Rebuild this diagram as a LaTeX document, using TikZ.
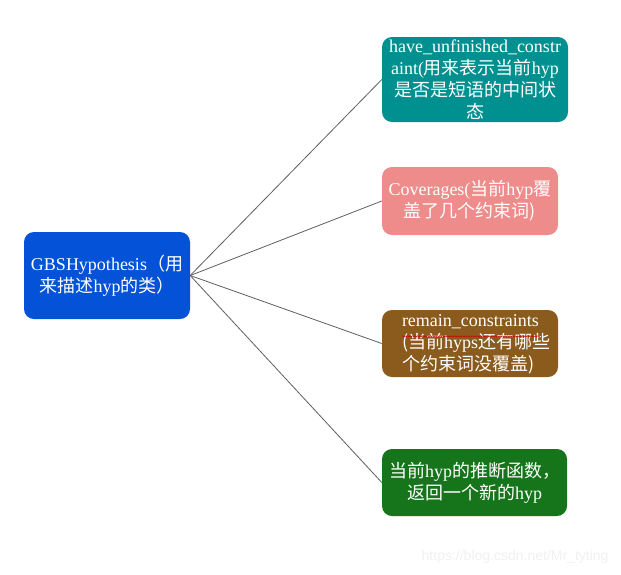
\documentclass[tikz,border=0pt]{standalone}
\usepackage{fontspec}
\setmainfont{Liberation Serif}
\setsansfont{Liberation Sans}
\newfontfamily\cjk{Noto Sans CJK SC}
\usetikzlibrary{calc,decorations.pathmorphing}
\definecolor{rootblue}{HTML}{0352D8}
\definecolor{teal}{HTML}{009090}
\definecolor{rose}{HTML}{EE8B8B}
\definecolor{bronze}{HTML}{8A5B1D}
\definecolor{leaf}{HTML}{16741A}
\definecolor{wire}{HTML}{5E5E5E}
\definecolor{mark}{HTML}{F0F0F0}
\newcommand{\zh}[1]{{\cjk #1}}
\tikzset{
  box/.style={rounded corners=10pt,text=white,align=center,inner sep=2pt,
    font=\fontsize{18}{22}\selectfont},
  rootbox/.style={box,fill=rootblue,minimum width=166pt,minimum height=87pt},
  fieldbox/.style={box,fill=teal,minimum width=186pt,minimum height=85pt},
  coverbox/.style={box,fill=rose,minimum width=176pt,minimum height=68pt},
  remainbox/.style={box,fill=bronze,minimum width=176pt,minimum height=67pt},
  funcbox/.style={box,fill=leaf,minimum width=185pt,minimum height=67pt},
  boxtext/.style={text=white,inner sep=0pt,font=\fontsize{18}{22}\selectfont},
  link/.style={draw=wire,line width=0.8pt}
}
\begin{document}
\begin{tikzpicture}[x=1pt,y=-1pt]
\useasboundingbox (0,0) rectangle (621,574);
% root and its members
\node[rootbox] (hyp) at (107,275.5) {GBSHypothesis\zh{（用}\\\zh{来描述}hyp\zh{的类）}};
\node[fieldbox] (unfin) at (475,79.5) {have\_unfinished\_constr\\aint(\zh{用来表示当前}hyp\\\zh{是否是短语的中间状}\\\zh{态}};
\node[coverbox] (cover) at (470,201) {Coverages(\zh{当前}hyp\zh{覆}\\\zh{盖了几个约束词)}};
\node[remainbox] (remain) at (470,343.5) {};
\node[boxtext,align=left,anchor=north west] (remaintext) at ($(remain.north west)+(20,5)$)
  {remain\_constraints\\\zh{(当前}hyps\zh{还有哪些}\\\zh{个约束词没覆盖)}};
\node[funcbox] (func) at (474.5,482.5) {\zh{当前}hyp\zh{的推断函数，}\\\zh{返回一个新的}hyp};

% connectors
\foreach \t in {unfin,cover,remain,func}
  \draw[link] (hyp.east) -- (\t.west);

% spell-check underline
\draw[red!80!black,line width=0.4pt,decorate,decoration={snake,amplitude=0.6pt,segment length=2.5pt}]
  ($(remaintext.north west)+(0,21.5)$) -- ($(remaintext.north west)+(138,21.5)$);

\node[font=\sffamily\fontsize{14}{16}\selectfont,text=mark,anchor=east] (wm) at (612,557) {https://blog.csdn.net/Mr\_tyting};
\end{tikzpicture}
\end{document}
